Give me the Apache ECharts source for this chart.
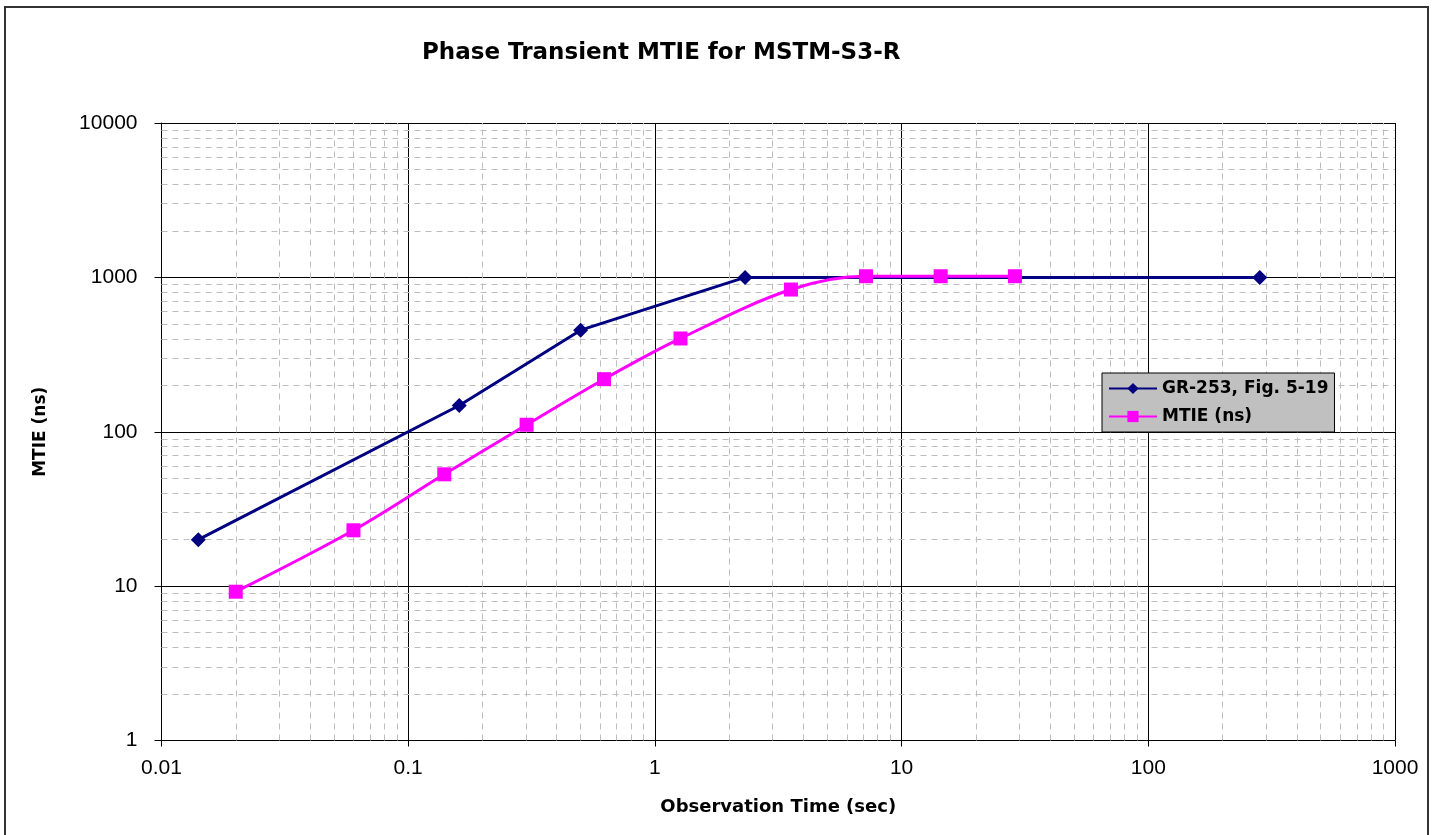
<!DOCTYPE html>
<html>
<head>
<meta charset="utf-8">
<script src="https://cdn.jsdelivr.net/npm/echarts@6/dist/echarts.min.js"></script>
<style>
html,body{margin:0;padding:0;background:#fff;}
#chart{width:1437px;height:835px;}
</style>
</head>
<body>
<div id="chart"></div>
<script>
// ---- data ----
const titleText = 'Phase Transient MTIE for MSTM-S3-R';
const xAxisName = 'Observation Time (sec)';
const yAxisName = 'MTIE (ns)';
const seriesNames = ['GR-253, Fig. 5-19', 'MTIE (ns)'];
const grX = [0.0141, 0.161, 0.5, 2.32, 283];
const grY = [20, 148, 455, 1000, 1000];
const mtieX = [0.02, 0.06, 0.14, 0.302, 0.622, 1.27, 3.56, 7.17, 14.4, 28.8];
const mtieY = [9.2, 23, 53, 111, 219, 402, 834, 1017, 1017, 1017];
const xMin = 0.01, xMax = 1000;
const yMin = 1, yMax = 10000;

// minor gridline values (2..9 per decade) derived from the axis range
function minors(lo, hi) {
  const out = [];
  for (let d = lo; d < hi * 0.999; d *= 10) {
    for (let k = 2; k <= 9; k++) out.push(Number((d * k).toPrecision(6)));
  }
  return out;
}
const xMinor = minors(xMin, xMax);
const yMinor = minors(yMin, yMax);

const fmt = v => String(Number(Number(v).toPrecision(6)));

const chart = echarts.init(document.getElementById('chart'));
const boldFont = '"DejaVu Sans", sans-serif';
const regFont = '"Liberation Sans", Arial, sans-serif';

const minorLines = [];
xMinor.forEach(v => minorLines.push({ xAxis: v }));
yMinor.forEach(v => minorLines.push({ yAxis: v }));

chart.setOption({
  animation: false,
  backgroundColor: '#ffffff',
  title: {
    text: titleText,
    left: 417,
    top: 37,
    textStyle: { fontFamily: boldFont, fontWeight: 'bold', fontSize: 23, color: '#000' }
  },
  graphic: [{
    type: 'rect',
    shape: { x: 5, y: 7, width: 1423, height: 840 },
    style: { fill: 'none', stroke: '#333', lineWidth: 2 },
    silent: true, z: 100
  }],
  legend: {
    orient: 'vertical',
    left: 1102,
    top: 373,
    z: 20,
    backgroundColor: '#c0c0c0',
    borderColor: '#000',
    borderWidth: 1,
    borderRadius: 0,
    padding: [7, 6, 7, 6],
    itemGap: 11,
    itemWidth: 48,
    itemHeight: 14,
    textStyle: { fontFamily: boldFont, fontWeight: 'bold', fontSize: 17, color: '#000' },
    data: seriesNames
  },
  grid: { left: 161.5, right: 42, top: 123, bottom: 94.5, containLabel: false },
  xAxis: {
    type: 'log', logBase: 10, min: xMin, max: xMax,
    name: xAxisName, nameLocation: 'middle', nameGap: 58,
    nameTextStyle: { fontFamily: boldFont, fontWeight: 'bold', fontSize: 18, color: '#000' },
    axisLine: { show: true, lineStyle: { color: '#000', width: 1 } },
    axisTick: { show: true, length: 6, inside: false, lineStyle: { color: '#000' } },
    axisLabel: { formatter: fmt, fontFamily: regFont, fontSize: 21, color: '#000', margin: 17 },
    splitLine: { show: true, lineStyle: { color: '#000', width: 1 } }
  },
  yAxis: {
    type: 'log', logBase: 10, min: yMin, max: yMax,
    name: yAxisName, nameLocation: 'middle', nameGap: 112, nameRotate: 90,
    nameTextStyle: { fontFamily: boldFont, fontWeight: 'bold', fontSize: 17, color: '#000' },
    axisLine: { show: true, lineStyle: { color: '#000', width: 1 } },
    axisTick: { show: true, length: 7, inside: false, lineStyle: { color: '#000' } },
    axisLabel: { formatter: fmt, fontFamily: regFont, fontSize: 21, color: '#000', margin: 24 },
    splitLine: { show: true, lineStyle: { color: '#000', width: 1 } }
  },
  series: [
    {
      name: 'minor-grid',
      type: 'line',
      data: [],
      silent: true,
      z: 1,
      markLine: {
        z: 1,
        silent: true,
        symbol: ['none', 'none'],
        label: { show: false },
        animation: false,
        lineStyle: { color: '#bdbdbd', width: 1, type: [6, 5] },
        data: minorLines
      }
    },
    {
      name: seriesNames[0],
      type: 'line',
      data: grX.map((x, i) => [x, grY[i]]),
      z: 4,
      symbol: 'diamond',
      symbolSize: 15,
      itemStyle: { color: '#000080' },
      lineStyle: { color: '#000080', width: 3 }
    },
    {
      name: seriesNames[1],
      type: 'line',
      data: mtieX.map((x, i) => [x, mtieY[i]]),
      z: 5,
      smooth: 0.35,
      symbol: 'rect',
      symbolSize: 14,
      itemStyle: { color: '#ff00ff' },
      lineStyle: { color: '#ff00ff', width: 3 }
    }
  ]
});
</script>
</body>
</html>
